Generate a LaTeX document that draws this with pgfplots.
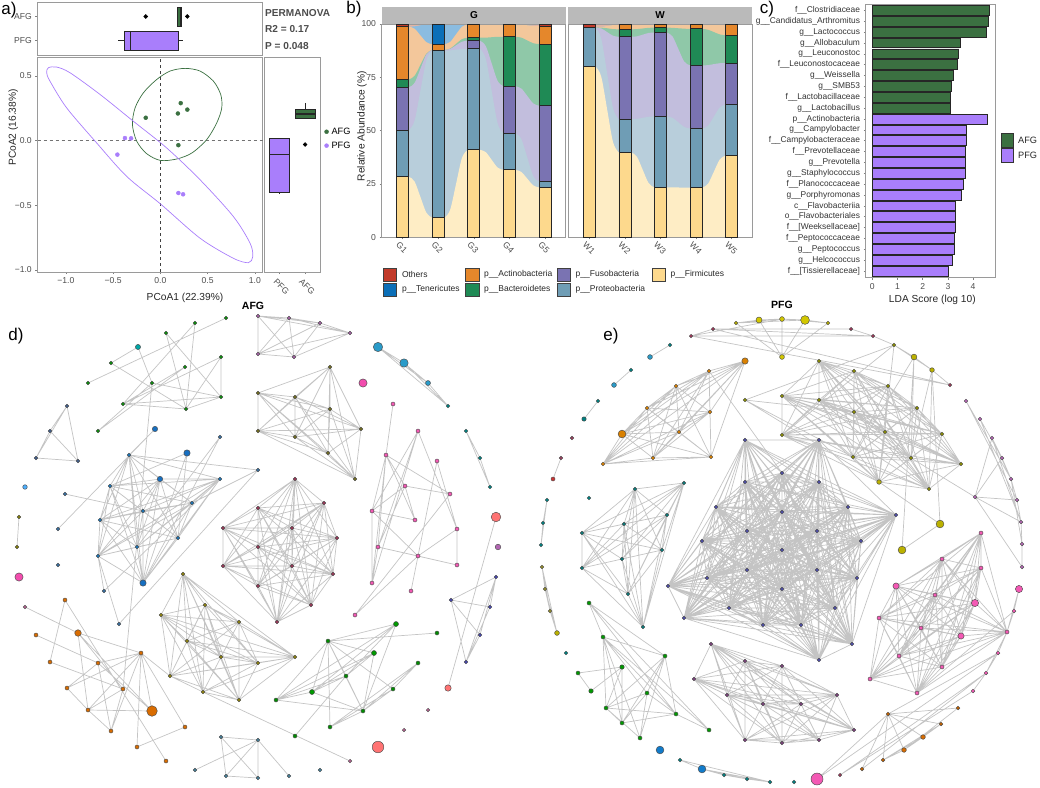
\documentclass[border=0pt]{standalone}
\usepackage{fontspec}
\setmainfont{Liberation Sans}
\usepackage{pgfplots}
\pgfplotsset{compat=1.18}
\usepackage{pgfplotstable}
\usepgfplotslibrary{statistics}

\definecolor{afg}{HTML}{3B7041}
\definecolor{pfg}{HTML}{A97EFB}
\definecolor{tick}{HTML}{4D4D4D}
\definecolor{frame}{HTML}{9A9A9A}
\definecolor{edge}{HTML}{C4C4C4}
% phylum colours: bar / ribbon
\definecolor{oth}{HTML}{C23B2B}   \definecolor{othL}{HTML}{E2B4A4}
\definecolor{ten}{HTML}{0B6FB8}   \definecolor{tenL}{HTML}{8BBCE0}
\definecolor{act}{HTML}{E5872B}   \definecolor{actL}{HTML}{F3C79B}
\definecolor{bac}{HTML}{1F8A55}   \definecolor{bacL}{HTML}{8FC8A8}
\definecolor{fus}{HTML}{7A73B2}   \definecolor{fusL}{HTML}{C2BEDD}
\definecolor{pro}{HTML}{6F9DB5}   \definecolor{proL}{HTML}{B8CEDB}
\definecolor{fir}{HTML}{FDD98D}   \definecolor{firL}{HTML}{FEEDC5}

% network helpers: lists are x/y in picture pixels
\newcommand\clique[1]{%
  \gdef\pts{}%
  \foreach \ax/\ay [count=\i] in #1 {%
    \foreach \bx/\by [count=\j] in #1 {%
      \ifnum\j>\i \xdef\pts{\pts (\ax,\ay) (\bx,\by) (nan,nan)}\fi}}%
  \edef\tmp{\noexpand\addplot[netedge] coordinates {\pts};}\tmp}
\newcommand\edges[1]{%
  \gdef\pts{}%
  \foreach \ax/\ay/\bx/\by in {#1} {\xdef\pts{\pts (\ax,\ay) (\bx,\by) (nan,nan)}}%
  \edef\tmp{\noexpand\addplot[netedge] coordinates {\pts};}\tmp}
\newcommand\netpts[3]{% colour, radius, list
  \gdef\pts{}%
  \foreach \ax/\ay in #3 {\xdef\pts{\pts (\ax,\ay)}}%
  \edef\tmp{\noexpand\addplot[only marks, mark=*, mark size=#2, line width=.45pt,
    mark options={fill=#1, draw=black!70}] coordinates {\pts};}\tmp}

\pgfplotsset{
  netedge/.style={no marks, color=edge, line width=.7pt, unbounded coords=jump},
  pix/.style={hide axis, scale only axis, at={(0pt,0pt)}, anchor=south west, width=1040pt, height=787pt,
    xmin=0, xmax=1040, ymin=0, ymax=787, y dir=reverse, clip=false},
  panel/.style={scale only axis, axis line style={frame, line width=.8pt},
    tick style={tick, line width=.5pt}, tick align=outside, major tick length=2.2pt,
    xtick pos=bottom, ytick pos=left, clip=false,
    tick label style={font=\fontsize{8.6}{10}\selectfont, text=tick},
    label style={font=\fontsize{10.2}{12}\selectfont, text=black!85},
    /pgf/number format/assume math mode=true},
  pcoax/.style={xmin=-1.30, xmax=1.08},
  pcoay/.style={ymin=-1.016, ymax=0.647},
  rib/.style={smooth, draw=none, fill=#1, forget plot},
  bars/.style={scale only axis, ymin=0, ymax=100, width=184pt, height=213.3pt,
    xmin=.41, xmax=5.58, clip=false},
  seg/.style={fill=#1, draw=black!85, line width=.8pt, bar width=12pt},
}

% ribbon outlines: cumulative top of each stratum, read at the bars and across the gaps
\pgfplotstableread{
x     c1   c2    c3    c4    c5    c6
1     28.4 50.2  70.3  74.0  98.75 98.75
1.17  28.4 50.2  70.3  74.0  98.75 98.75
1.335 26.1 54.7  72.4  75.7  97.8  98.9
1.5   18.8 68.9  79.1  80.9  94.6  99.4
1.665 11.5 83.0  85.7  86.1  91.5  99.85
1.83  9.2  87.5  87.8  87.8  90.5  100
2     9.2  87.5  87.8  87.8  90.5  100
2.17  9.2  87.5  87.8  87.8  90.5  100
2.335 13.0 87.6  88.3  88.5  91.6  100
2.5   25.1 88.0  90.0  90.7  95.2  99.9
2.665 37.2 88.3  91.7  92.9  98.7  99.8
2.83  41.0 88.4  92.2  93.6  99.8  99.8
3     41.0 88.4  92.2  93.6  99.8  99.8
3.17  41.0 88.4  92.2  93.6  99.8  99.8
3.335 39.9 83.6  89.6  93.6  99.8  99.8
3.5   36.3 68.6  81.5  93.8  99.8  99.8
3.665 32.7 53.5  73.4  94.0  99.8  99.8
3.83  31.6 48.75 70.8  94.0  99.8  99.8
4     31.6 48.75 70.8  94.0  99.8  99.8
4.17  31.6 48.75 70.8  94.0  99.8  99.8
4.335 30.6 46.0  69.7  93.6  99.7  99.7
4.5   27.5 37.4  66.3  92.3  99.4  99.4
4.665 24.4 28.8  62.8  91.0  99.1  99.1
4.83  23.4 26.1  61.7  90.6  99.0  99.0
5     23.4 26.1  61.7  90.6  99.0  99.0
}\flowG
\pgfplotstableread{
x     c1   c2    c3    c4    c5    c6
1     80.0 98.3  98.4  98.4  98.5  98.5
1.17  80.0 98.3  98.4  98.4  98.5  98.5
1.335 75.2 93.1  97.9  98.3  98.6  98.6
1.5   59.9 76.8  96.2  98.0  99.1  99.1
1.665 44.6 60.5  94.5  97.6  99.5  99.5
1.83  39.8 55.3  94.0  97.5  99.6  99.6
2     39.8 55.3  94.0  97.5  99.6  99.6
2.17  39.8 55.3  94.0  97.5  99.6  99.6
2.335 37.8 55.5  94.2  97.6  99.6  99.6
2.5   31.6 56.0  95.0  97.9  99.7  99.7
2.665 25.4 56.5  95.8  98.2  99.8  99.8
2.83  23.4 56.7  96.0  98.3  99.8  99.8
3     23.4 56.7  96.0  98.3  99.8  99.8
3.17  23.4 56.7  96.0  98.3  99.8  99.8
3.335 23.4 56.0  94.2  98.2  99.8  99.8
3.5   23.35 53.9 88.3  98.0  99.75 99.75
3.665 23.3 51.7  82.4  97.8  99.7  99.7
3.83  23.3 51.0  80.6  97.7  99.7  99.7
4     23.3 51.0  80.6  97.7  99.7  99.7
4.17  23.3 51.0  80.6  97.7  99.7  99.7
4.335 25.1 52.3  80.7  97.3  99.7  99.7
4.5   30.8 56.6  81.2  96.2  99.75 99.75
4.665 36.5 60.9  81.6  95.1  99.8  99.8
4.83  38.3 62.2  81.7  94.7  99.8  99.8
5     38.3 62.2  81.7  94.7  99.8  99.8
}\flowW
% stratum sizes per sample
\pgfplotstableread{
x fir  pro   fus  bac  act   ten oth
1 28.4 21.8  20.1 3.7  24.75 0   1.25
2 9.2  78.3  0.3  0    2.7   9.5 0
3 41.0 47.4  3.8  1.4  6.2   0   0.2
4 31.6 17.15 22.05 23.2 5.8  0   0.2
5 23.4 2.7   35.6 28.9 8.4   0   1.0
}\barsG
\pgfplotstableread{
x fir  pro  fus  bac  act  ten oth
1 80.0 18.3 0.1  0    0.1  0   1.5
2 39.8 15.5 38.7 3.5  2.1  0   0.4
3 23.4 33.3 39.3 2.3  1.5  0   0.2
4 23.3 27.7 29.6 17.1 2.0  0   0.3
5 38.3 23.9 19.5 13.0 5.1  0   0.2
}\barsW

\begin{document}
\begin{tikzpicture}[x=1pt,y=1pt]
\path[use as bounding box] (0,0) rectangle (1040,787);

% ---------- a) ordination
\begin{axis}[panel, pcoax, pcoay, at={(37.5pt,515pt)}, anchor=south west, width=225pt, height=215pt,
  xtick={-1,-.5,0,.5,1}, xticklabels={−1.0,−0.5,0.0,0.5,1.0},
  ytick={-1,-.5,0,.5}, yticklabels={−1.0,−0.5,0.0,0.5},
  xlabel={PCoA1 (22.39\%)}, ylabel={PCoA2 (16.38\%)},
  xlabel style={xshift=35pt, yshift=-2pt}, ylabel style={xshift=37pt, yshift=-10pt},
  legend style={at={(1.275,.62)}, anchor=west, draw=none, fill=none, inner sep=0pt,
    font=\fontsize{9.2}{10}\selectfont, row sep=2pt, nodes={inner xsep=3pt}},
  legend cell align=left]
\addplot[forget plot, black!55, dashed, line width=.9pt] coordinates {(-1.3,0) (1.08,0)};
\addplot[forget plot, black!75, dashed, line width=.7pt] coordinates {(0,-1.016) (0,.647)};
\addplot[forget plot, afg, line width=.7pt, smooth cycle] coordinates {
 (.261,.559) (.42,.538) (.561,.46) (.638,.357) (.649,.253) (.596,.137) (.49,.008) (.332,-.096)
 (.173,-.142) (0,-.153) (-.145,-.101) (-.25,-.005) (-.296,.124) (-.268,.253) (-.18,.37) (-.039,.473) (.102,.538)};
\addplot[forget plot, pfg, line width=.7pt, smooth cycle] coordinates {
 (-1.185,.564) (-1.097,.569) (-.956,.525) (-.638,.357) (-.286,.15) (.067,-.057) (.42,-.303) (.772,-.587)
 (.949,-.794) (.977,-.897) (.931,-.944) (.772,-.91) (.42,-.755) (0,-.489) (-.356,-.277) (-.674,-.018)
 (-.991,.253) (-1.168,.46) (-1.203,.525)};
\addplot[only marks, mark=*, mark size=2pt, color=afg] coordinates {(.19,-.035) (-.155,.177) (.185,.21) (.215,.29) (.285,.24)};
\addlegendentry{AFG}
\addplot[only marks, mark=*, mark size=2pt, color=pfg] coordinates {(.19,-.405) (.24,-.415) (-.375,.02) (-.31,.018) (-.455,-.108)};
\addlegendentry{PFG}
\end{axis}

\begin{axis}[panel, pcoax, at={(37.5pt,732pt)}, anchor=south west, width=225pt, height=52.5pt,
  ymin=.4, ymax=2.58, xtick=\empty, ytick={1,2}, yticklabels={PFG,AFG},
  boxplot/draw direction=x, boxplot/box extend=.79, boxplot/whisker extend=0,
  boxplot/every median/.style={line width=1.3pt}]
\addplot[boxplot prepared={draw position=2, lower whisker=.183, lower quartile=.183, median=.21,
  upper quartile=.226, upper whisker=.226}, fill=afg, draw=black!85, mark=*, mark size=1.9pt,
  mark options={fill=black, draw=black}, line width=.6pt] coordinates {(0,-.155) (0,.285)};
\addplot[boxplot prepared={draw position=1, lower whisker=-.45, lower quartile=-.377, median=-.314,
  upper quartile=.187, upper whisker=.236}, fill=pfg, draw=black!85, line width=.6pt] coordinates {};
\end{axis}

\begin{axis}[panel, pcoay, at={(264pt,515pt)}, anchor=south west, width=56pt, height=215pt,
  xmin=.4, xmax=2.58, ytick=\empty, xtick={1,2}, xticklabels={PFG,AFG},
  xticklabel style={rotate=-45, anchor=north west, xshift=-2pt, yshift=-1pt},
  boxplot/draw direction=y, boxplot/box extend=.76, boxplot/whisker extend=0,
  boxplot/every median/.style={line width=1.3pt}]
\addplot[boxplot prepared={draw position=1, lower whisker=-.41, lower quartile=-.40, median=-.106,
  upper quartile=.02, upper whisker=.02}, fill=pfg, draw=black!85, line width=.6pt] coordinates {};
\addplot[boxplot prepared={draw position=2, lower whisker=.176, lower quartile=.176, median=.207,
  upper quartile=.245, upper whisker=.292}, fill=afg, draw=black!85, mark=*, mark size=1.9pt,
  mark options={fill=black, draw=black}, line width=.6pt] coordinates {(0,-.03)};
\end{axis}

% ---------- b) alluvial bars, ribbons sit in their own axis under the stack
\begin{axis}[bars, hide axis, at={(381.7pt,549.7pt)}, anchor=south west]
\addplot[rib=othL] coordinates {(1,100) (5,100)} \closedcycle;
\addplot[rib=tenL] table[x=x,y=c6] {\flowG} \closedcycle;
\addplot[rib=actL] table[x=x,y=c5] {\flowG} \closedcycle;
\addplot[rib=bacL] table[x=x,y=c4] {\flowG} \closedcycle;
\addplot[rib=fusL] table[x=x,y=c3] {\flowG} \closedcycle;
\addplot[rib=proL] table[x=x,y=c2] {\flowG} \closedcycle;
\addplot[rib=firL] table[x=x,y=c1] {\flowG} \closedcycle;
\end{axis}
\begin{axis}[bars, panel, at={(381.7pt,549.7pt)}, anchor=south west, ybar stacked,
  xtick={1,...,5}, xticklabels={G1,G2,G3,G4,G5}, ytick={0,25,50,75,100},
  xticklabel style={rotate=-45, anchor=north west, xshift=-4pt},
  ylabel={Relative Abundance (\%)}, ylabel style={xshift=4.5pt, yshift=-12pt}]
\addplot[seg=fir] table[x=x,y=fir] {\barsG};
\addplot[seg=pro] table[x=x,y=pro] {\barsG};
\addplot[seg=fus] table[x=x,y=fus] {\barsG};
\addplot[seg=bac] table[x=x,y=bac] {\barsG};
\addplot[seg=act] table[x=x,y=act] {\barsG};
\addplot[seg=ten] table[x=x,y=ten] {\barsG};
\addplot[seg=oth] table[x=x,y=oth] {\barsG};
\end{axis}
\begin{axis}[bars, hide axis, at={(568pt,549.7pt)}, anchor=south west, xmin=.40, xmax=5.57]
\addplot[rib=othL] coordinates {(1,100) (5,100)} \closedcycle;
\addplot[rib=tenL] table[x=x,y=c6] {\flowW} \closedcycle;
\addplot[rib=actL] table[x=x,y=c5] {\flowW} \closedcycle;
\addplot[rib=bacL] table[x=x,y=c4] {\flowW} \closedcycle;
\addplot[rib=fusL] table[x=x,y=c3] {\flowW} \closedcycle;
\addplot[rib=proL] table[x=x,y=c2] {\flowW} \closedcycle;
\addplot[rib=firL] table[x=x,y=c1] {\flowW} \closedcycle;
\end{axis}
\begin{axis}[bars, panel, at={(568pt,549.7pt)}, anchor=south west, ybar stacked, xmin=.40, xmax=5.57,
  xtick={1,...,5}, xticklabels={W1,W2,W3,W4,W5}, ytick=\empty,
  xticklabel style={rotate=-45, anchor=north west, xshift=-4pt}]
\addplot[seg=fir] table[x=x,y=fir] {\barsW};
\addplot[seg=pro] table[x=x,y=pro] {\barsW};
\addplot[seg=fus] table[x=x,y=fus] {\barsW};
\addplot[seg=bac] table[x=x,y=bac] {\barsW};
\addplot[seg=act] table[x=x,y=act] {\barsW};
\addplot[seg=ten] table[x=x,y=ten] {\barsW};
\addplot[seg=oth] table[x=x,y=oth] {\barsW};
\end{axis}

% ---------- c) LDA
\begin{axis}[panel, at={(865.7pt,509.3pt)}, anchor=south west, width=129.3pt, height=273.7pt,
  xbar, bar shift=0pt, bar width=9.8pt, y dir=reverse, xmin=-.265, xmax=4.87, ymin=.42, ymax=25.61,
  xtick={0,...,4}, ytick={1,...,25},
  yticklabels={f\_\_Clostridiaceae,g\_\_Candidatus\_Arthromitus,g\_\_Lactococcus,g\_\_Allobaculum,g\_\_Leuconostoc,
    f\_\_Leuconostocaceae,g\_\_Weissella,g\_\_SMB53,f\_\_Lactobacillaceae,g\_\_Lactobacillus,p\_\_Actinobacteria,
    g\_\_Campylobacter,f\_\_Campylobacteraceae,f\_\_Prevotellaceae,g\_\_Prevotella,g\_\_Staphylococcus,
    f\_\_Planococcaceae,g\_\_Porphyromonas,c\_\_Flavobacteriia,o\_\_Flavobacteriales,f\_\_{[Weeksellaceae]},
    f\_\_Peptococcaceae,g\_\_Peptococcus,g\_\_Helcococcus,f\_\_{[Tissierellaceae]}},
  yticklabel style={font=\fontsize{8.4}{10}\selectfont, text=black!80},
  xlabel={LDA Score (log 10)}, xlabel style={xshift=2pt, yshift=1pt}]
\addplot[fill=afg, draw=black!85, line width=.7pt] coordinates {(4.66,1) (4.6,2) (4.54,3) (3.5,4) (3.43,5)
  (3.38,6) (3.22,7) (3.15,8) (3.1,9) (3.1,10)};
\addplot[fill=pfg, draw=black!85, line width=.7pt] coordinates {(4.57,11) (3.74,12) (3.74,13) (3.68,14) (3.69,15)
  (3.68,16) (3.62,17) (3.52,18) (3.31,19) (3.31,20) (3.31,21) (3.25,22) (3.25,23) (3.19,24) (3.0,25)};
\end{axis}

% ---------- d) AFG network, picture pixels
\begin{axis}[pix]
\def\dGreen{138/347,111/363,88/383,226/318,195/323,166/333,221/357,185/367,152/383,221/397,123/404,186/409,98/431}
\def\dTri{67/406,50/431,36/458,78/461}
\def\dBlue{129/455,160/479,220/479,110/486,192/503,143/511,100/520,178/538,98/556,137/547,143/583}
\def\dBlueB{155/429,187/453,220/437,258/470,65/494,58/529,104/591,119/624,58/565}
\def\dPur{258/316,258/354,289/318,320/323,350/333,294/357}
\def\dOlv{330/367,295/397,330/409,361/429,295/437,328/453,355/479,258/393,258/431}
\def\dMag{258/508,223/528,223/566,258/547,258/586,295/479,324/503,292/528,337/538,292/566,333/574,311/605,277/622}
\def\dLow{183/574,205/605,161/615,239/622,187/641,221/657,258/663,170/676,203/692,239/700,295/657}
\def\dOrg{65/600,78/633,36/635,50/662,141/653,98/663,123/689,67/688,88/710,111/731,185/727,137/747,166/761}
\def\dPink{393/404,418/431,437/461,386/455,405/486,450/494,372/511,415/520,457/529,378/547,418/556,457/565,372/583,411/591,355/615}
\def\dGrn{396/624,437/633,328/641,374/653,418/663,346/676,393/689,312/692,276/700,363/711,330/727,295/736}
\def\dCy{221/737,258/740,226/776,258/778,195/770,289/776,320/770}
\def\dSl{496/577,451/600,490/607,480/635,466/662}
\clique\dTri \clique\dBlue \clique\dPur \clique\dOlv \clique\dMag \clique\dLow
\clique{{378/347,404/363,428/383,448/406}} \clique{{466/431,480/458,490/487}}
\clique{{221/737,258/740,226/776,258/778}}
\edges{138/347/152/383,138/347/111/363,111/363/186/409,88/383/226/318,195/323/123/404,195/323/186/409,
 166/333/186/409,166/333/221/397,221/357/221/397,221/357/123/404,221/357/186/409,185/367/98/431,185/367/123/404,
 152/383/221/397,123/404/221/397,123/404/186/409,186/409/221/397,98/431/152/383,152/383/123/689,
 155/429/129/455,155/429/58/529,187/453/110/486,187/453/143/583,187/453/178/538,129/455/258/470,65/494/143/511,
 220/437/143/583,220/437/137/547,258/470/192/503,258/470/119/624,104/591/220/479,104/591/98/556,98/556/119/624,
 19/517/17/547,195/770/258/740,258/740/289/776,
 65/600/50/662,65/600/166/761,25/607/78/633,36/635/98/663,50/662/123/689,78/633/141/653,78/633/88/710,78/633/123/689,
 78/633/152/711,141/653/67/688,141/653/88/710,141/653/111/731,141/653/137/747,141/653/152/711,141/653/185/727,
 141/653/98/663,141/653/170/676,98/663/67/688,98/663/111/731,98/663/152/711,123/689/88/710,123/689/111/731,
 67/688/88/710,88/710/111/731,88/710/152/711,185/727/137/747,
 393/404/386/455,386/455/372/511,386/455/405/486,386/455/415/520,386/455/450/494,386/455/378/547,386/455/372/583,
 418/431/372/511,418/431/457/529,418/431/378/547,418/431/372/583,437/461/457/529,437/461/411/591,405/486/450/494,
 405/486/372/511,405/486/415/520,405/486/378/547,372/511/415/520,372/511/372/583,372/511/418/556,450/494/355/615,
 457/529/457/565,457/529/418/556,378/547/418/556,378/547/457/565,418/556/457/565,418/556/411/591,418/556/355/615,
 372/583/378/547,
 396/624/328/641,396/624/276/700,396/624/312/692,396/624/346/676,396/624/363/711,437/633/328/641,328/641/374/653,
 328/641/393/689,328/641/276/700,328/641/312/692,328/641/330/727,328/641/346/676,328/641/363/711,374/653/276/700,
 374/653/312/692,374/653/346/676,374/653/363/711,418/663/393/689,418/663/330/727,418/663/363/711,346/676/363/711,
 346/676/312/692,346/676/276/700,346/676/295/736,312/692/276/700,312/692/363/711,276/700/363/711,393/689/363/711,
 363/711/330/727,393/689/330/727,203/692/350/761,
 496/577/451/600,496/577/490/607,496/577/480/635,496/577/466/662,451/600/490/607,451/600/480/635,451/600/466/662,
 490/607/466/662,480/635/466/662,496/517/448/688}
\netpts{green!60!black}{1.8pt}\dGreen
\netpts{cyan!45!blue!70!black}{1.8pt}\dTri
\netpts{cyan!60!blue}{1.8pt}\dBlue
\netpts{cyan!60!blue!80!black}{1.8pt}\dBlueB
\netpts{violet!60}{1.8pt}\dPur
\netpts{olive!80!black}{1.8pt}\dOlv
\netpts{purple!60!gray}{1.8pt}\dMag
\netpts{olive!90!orange}{1.8pt}\dLow
\netpts{orange!85!black}{2pt}\dOrg
\netpts{magenta!65!white}{2pt}\dPink
\netpts{green!55!black}{2pt}\dGrn
\netpts{cyan!60!black}{1.8pt}\dCy
\netpts{blue!45!gray}{1.8pt}\dSl
\netpts{magenta!50!gray}{1.7pt}{{25/607,428/710,404/730,350/761}}
\netpts{olive}{1.8pt}{{19/517,17/547}}
\netpts{teal}{1.9pt}{{466/431,480/458,490/487,448/406}}
\netpts{teal!70!cyan}{2.6pt}{{138/347}}
\netpts{cyan!50!blue}{2.7pt}{{155/429,160/479}}
\netpts{cyan!50!blue}{3.2pt}{{187/453,143/583}}
\netpts{blue!45!cyan!70!white}{2.3pt}{{25/487}}
\netpts{orange!85!black}{3.3pt}{{78/633}}
\netpts{orange!85!black}{5.3pt}{{152/711}}
\netpts{cyan!60!teal}{4.7pt}{{378/347}}
\netpts{cyan!60!teal}{4.2pt}{{404/363}}
\netpts{cyan!60!teal}{2.5pt}{{428/383}}
\netpts{magenta!70!white}{4.1pt}{{19/577,363/383}}
\netpts{red!55!white}{4.8pt}{{496/517}}
\netpts{red!55!white}{3.2pt}{{448/688}}
\netpts{red!55!white}{5.8pt}{{378/747}}
\netpts{violet!60}{2.8pt}{{498/547}}
\netpts{green!60!black}{2.5pt}{{374/653,312/692,396/624}}
\end{axis}

% ---------- e) PFG network
\begin{axis}[pix]
\def\eOrg{709/371,676/386,647/408,710/412,622/434,679/432,653/458,711/457,603/464,745/361}
\def\eTeal{635/489,684/483,667/515,624/524,582/533,622/559,662/550,582/568,628/594,643/627}
\def\eNavy{745/440,745/482,716/507,747/531,702/541,782/473,819/440,819/482,782/512,848/507,896/515,817/531,861/541,668/586,707/578,747/570,684/618,729/608,763/625,782/550,817/570,782/589,857/578,835/608,801/625,819/660,852/644}
\def\eOlv{819/361,854/371,888/386,782/396,819/400,917/408,854/412,782/435,885/432,942/434,853/457,911/458,961/464,879/482,929/489}
\def\ePur{711/644,745/661,694/679,727/695,763/704,745/740,782/666,837/695,801/704,854/730,819/740,782/743}
\def\ePink{942/559,981/568,896/586,935/595,975/603,879/618,921/628,1007/632,961/636,899/656,942/667,870/679,917/693,981/533}
\def\eGrn{589/603,603/637,665/656,622/667,578/673,591/691,647/693,606/708,676/714,709/730,622/723,640/738}
\def\eGold{736/323,759/320,782/319,805/320,828/323,782/357}
\def\eArc{966/401,980/419,992/438,1002/458,1011/479,1017/500,1021/522,1022/544,975/497,1022/567}
\def\eOr{888/714,958/708,941/724,923/737,904/750,883/760,862/769}
\def\ePinkR{1019/589,1014/611,998/653,986/673,973/691,817/779}
\clique\eOrg \clique\eTeal \clique\eNavy \clique\eOlv \clique\ePur \clique\ePink
\clique{{541/545,547/500,543/523}} \clique{{542/567,545/589,550/611,557/633}}
\edges{670/345/650/357,631/370/614/385,598/401/584/419,561/458/553/479,
 691/336/713/329,691/336/873/336,691/336/782/319,713/329/851/329,713/329/873/336,691/336/950/385,713/329/950/385,
 736/323/782/319,736/323/759/320,736/323/805/320,759/320/782/319,759/320/782/357,782/319/805/320,782/319/828/323,
 782/319/782/357,805/320/828/323,805/320/782/357,828/323/782/357,736/323/782/357,851/329/873/336,873/336/894/345,
 894/345/914/357,914/357/932/370,932/370/950/385,894/345/932/370,
 894/345/879/482,914/357/902/550,914/357/911/458,914/357/853/457,932/370/940/524,932/370/911/458,932/370/929/489,
 894/345/782/435,745/400/894/345,745/400/853/457,745/400/879/482,745/400/854/412,709/371/782/473,
 879/482/940/524,940/524/902/550,
 975/497/992/438,975/497/1002/458,975/497/1017/500,975/497/1021/522,975/497/911/458,975/497/1022/567,1022/544/1022/567,
 966/401/1011/479,966/401/1017/500,980/419/1002/458,980/419/1021/522,992/438/1002/458,992/438/1011/479,992/438/1021/522,
 1002/458/1011/479,1011/479/1017/500,1017/500/1021/522,1021/522/1022/544,1011/479/1022/544,
 1019/589/1014/611,1019/589/1007/632,1014/611/1007/632,1014/611/917/693,1007/632/998/653,998/653/986/673,986/673/973/691,
 1007/632/986/673,998/653/888/714,986/673/862/769,888/714/817/779,973/691/840/775,986/673/840/775,998/653/817/779,
 888/714/958/708,888/714/941/724,888/714/923/737,888/714/904/750,888/714/883/760,888/714/862/769,958/708/904/750,
 941/724/923/737,923/737/904/750,941/724/883/760,904/750/883/760,923/737/883/760,941/724/904/750,
 680/760/702/769,680/760/770/782,702/769/747/779,702/769/770/782,724/775/747/779,724/775/770/782,747/779/770/782,702/769/724/775,
 589/603/665/656,589/603/603/637,589/603/676/714,589/603/709/730,603/637/665/656,603/637/606/708,603/637/622/723,
 603/637/640/738,603/637/676/714,603/637/709/730,603/637/647/693,665/656/606/708,665/656/622/723,665/656/640/738,
 665/656/647/693,665/656/676/714,622/667/578/673,622/667/591/691,622/667/606/708,622/667/622/723,578/673/591/691,
 647/693/606/708,647/693/622/723,647/693/640/738,647/693/676/714,606/708/676/714,606/708/640/738,606/708/622/723,
 622/723/676/714,676/714/709/730}
\netpts{orange!70!olive}{1.9pt}\eOrg
\netpts{teal}{1.8pt}\eTeal
\netpts{blue!40!gray}{1.8pt}\eNavy
\netpts{olive!90!green}{1.9pt}\eOlv
\netpts{violet!50!gray}{1.8pt}\ePur
\netpts{magenta!65!white}{2pt}\ePink
\netpts{green!60!black}{2pt}\eGrn
\netpts{olive!70!yellow}{1.9pt}\eGold
\netpts{violet!60}{1.9pt}\eArc
\netpts{orange!75!black}{1.9pt}\eOr
\netpts{magenta!65!white}{1.9pt}\ePinkR
\netpts{purple!60!gray}{1.7pt}{{691/336,713/329,851/329,873/336,950/385,840/775}}
\netpts{olive!90!green}{1.9pt}{{894/345,745/400}}
\netpts{teal}{1.9pt}{{670/345,631/370,598/401,584/419,589/498,566/653,547/500,543/523,541/545,680/760,724/775,747/779,770/782,794/782}}
\netpts{purple!50!gray}{1.8pt}{{572/438,561/458}}
\netpts{red!60!gray}{2pt}{{553/479}}
\netpts{olive!70!gray}{1.9pt}{{542/567,545/589,550/611}}
\netpts{cyan!60!teal}{2.4pt}{{650/357,614/385}}
\netpts{teal}{2.2pt}{{584/419}}
\netpts{yellow!60!olive}{3pt}{{759/320}}
\netpts{yellow!60!olive}{4.4pt}{{805/320}}
\netpts{orange!70!olive}{3.2pt}{{745/361}}
\netpts{orange!70!olive}{3.9pt}{{622/434}}
\netpts{yellow!60!olive}{2.4pt}{{782/319,782/357}}
\netpts{yellow!40!olive}{2.9pt}{{914/357}}
\netpts{yellow!40!olive}{2.3pt}{{932/370,879/482}}
\netpts{yellow!40!olive}{3.9pt}{{940/524,902/550}}
\netpts{yellow!40!olive}{2.4pt}{{557/633}}
\netpts{magenta!65!white}{3.1pt}{{896/586,961/636}}
\netpts{magenta!65!white}{3.6pt}{{975/603,1019/589}}
\netpts{magenta!65!white}{6pt}{{817/779}}
\netpts{cyan!60!blue}{3.9pt}{{660/750,702/769}}
\netpts{orange!85!black}{2.3pt}{{904/750,923/737}}
\netpts{green!60!black}{2.2pt}{{622/667,591/691}}
\end{axis}

% ---------- page text, strips, keys
\begin{axis}[pix]
\newcommand\ptext[4][]{\node[font=\fontsize{#2}{#2}\selectfont, inner sep=0pt, #1] at (axis cs:#3) {#4};}
\ptext{17}{9,10}{a)}
\ptext{17}{354,9}{b)}
\ptext{17}{767,9}{c)}
\ptext{17}{16,336}{d)}
\ptext{17}{611,336}{e)}
\ptext[anchor=west, text=black!70]{10.1}{265,13}{\textbf{PERMANOVA}}
\ptext[anchor=west, text=black!70]{10.1}{265,29}{\textbf{R2 = 0.17}}
\ptext[anchor=west, text=black!70]{10.1}{265,46}{\textbf{P = 0.048}}
\ptext{10.5}{253,306}{\textbf{AFG}}
\ptext{10.5}{782,305}{\textbf{PFG}}
\fill[black!27] (381.7,7.3) rectangle (566,24);
\fill[black!27] (568,7.3) rectangle (752,24);
\ptext{10}{474,15.5}{\textbf{G}}
\ptext{10}{660,15.5}{\textbf{W}}
\def\key#1#2#3#4{\fill[#3, draw=black!75, line width=.7pt] (#1,#2) rectangle (#1+13.5,#2+13.5);
  \ptext[anchor=west, text=black!85]{8.5}{#1+18.5,#2+6.7}{#4}}
\key{383.3}{268}{oth}{Others}
\key{383.3}{283}{ten}{p\_\_Tenericutes}
\key{465.5}{268}{act}{p\_\_Actinobacteria}
\key{465.5}{283}{bac}{p\_\_Bacteroidetes}
\key{557}{268}{fus}{p\_\_Fusobacteria}
\key{557}{283}{pro}{p\_\_Proteobacteria}
\key{652}{268}{fir}{p\_\_Firmicutes}
\fill[afg, draw=black!80, line width=.7pt] (1001,133) rectangle (1013,147);
\fill[pfg, draw=black!80, line width=.7pt] (1001,148) rectangle (1013,162);
\ptext[anchor=west, text=black!85]{9.2}{1018,140}{AFG}
\ptext[anchor=west, text=black!85]{9.2}{1018,155}{PFG}
\end{axis}
\end{tikzpicture}
\end{document}
